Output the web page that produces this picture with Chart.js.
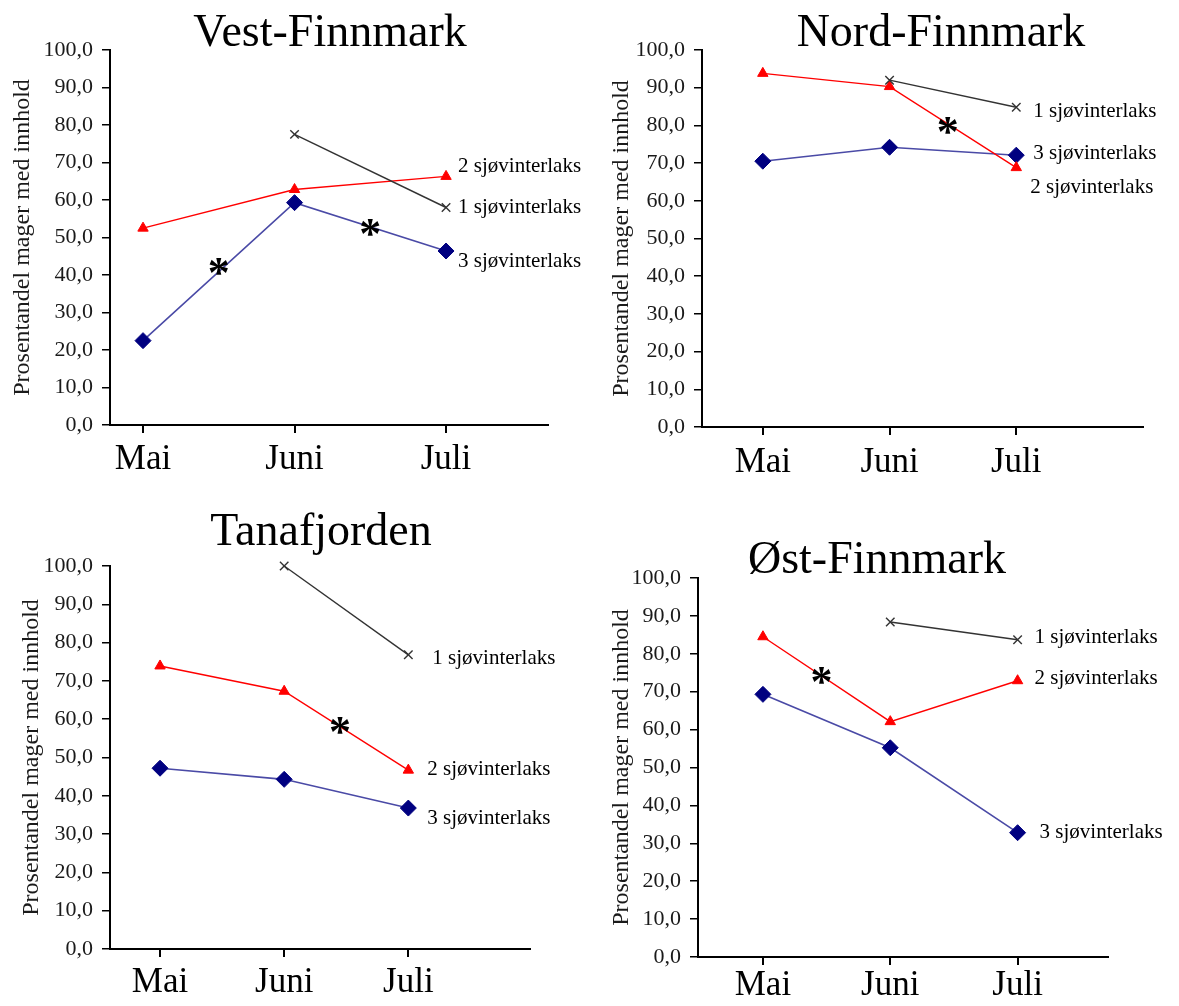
<!DOCTYPE html>
<html>
<head>
<meta charset="utf-8">
<script src="https://cdn.jsdelivr.net/npm/chart.js@4.4.1/dist/chart.umd.min.js"></script>
<style>
  body { margin: 0; background: #fff; }
  .panel { position: absolute; }
</style>
</head>
<body>
<div class="panel" style="left:0px;top:0px;width:595px;height:490px"><canvas id="c1"></canvas></div>
<div class="panel" style="left:595px;top:0px;width:584px;height:490px"><canvas id="c2"></canvas></div>
<div class="panel" style="left:0px;top:490px;width:595px;height:516px"><canvas id="c3"></canvas></div>
<div class="panel" style="left:595px;top:490px;width:584px;height:516px"><canvas id="c4"></canvas></div>
<script>
// month categories and series names
const months = ["Mai", "Juni", "Juli"];
const seriesNames = ["1 sjøvinterlaks", "2 sjøvinterlaks", "3 sjøvinterlaks"];
const yTitle = "Prosentandel mager med innhold";

// values (percent), null = no sample
const vest1 = [null, 77.5, 58.0];
const vest2 = [52.5, 62.8, 66.3];
const vest3 = [22.5, 59.3, 46.4];

const nord1 = [null, 92.0, 84.8];
const nord2 = [93.8, 90.3, 68.8];
const nord3 = [70.5, 74.2, 72.1];

const tana1 = [null, 100.0, 76.8];
const tana2 = [73.9, 67.3, 46.7];
const tana3 = [47.2, 44.3, 36.8];

const ost1 = [null, 88.4, 83.7];
const ost2 = [84.5, 62.1, 72.9];
const ost3 = [69.3, 55.2, 32.8];

// significance stars (month position, value)
const vestStars = [[1.5, 42.2], [2.5, 52.6]];
const nordStars = [[2.46, 80.0]];
const tanaStars = [[2.45, 58.5]];
const ostStars = [[1.46, 74.3]];

const FONT = "'Liberation Serif', 'Times New Roman', serif";

// layout of each panel (page px) - box is the canvas, plot is the axes area
const panels = [
  { id: "c1", title: "Vest-Finnmark", data: [vest1, vest2, vest3], stars: vestStars,
    box: [0, 0, 595, 490], plot: [110, 50, 548, 425], xmin: 0.782, xmax: 3.673,
    titleAt: [330, 46], yTitlePad: 8, xPad: 6,
    labelOff: [[12, 0], [12, -10], [12, 10]] },
  { id: "c2", title: "Nord-Finnmark", data: [nord1, nord2, nord3], stars: nordStars,
    box: [595, 0, 584, 490], plot: [702, 50, 1143, 427], xmin: 0.52, xmax: 4.0,
    titleAt: [941, 46], yTitlePad: 12, xPad: 7,
    labelOff: [[17, 4], [14, 20], [17, -2]] },
  { id: "c3", title: "Tanafjorden", data: [tana1, tana2, tana3], stars: tanaStars,
    box: [0, 490, 595, 516], plot: [110, 566, 530, 949], xmin: 0.597, xmax: 3.98,
    titleAt: [321, 545], yTitlePad: 17, xPad: 5,
    labelOff: [[24, 4], [19, -1], [19, 10]] },
  { id: "c4", title: "Øst-Finnmark", data: [ost1, ost2, ost3], stars: ostStars,
    box: [595, 490, 584, 516], plot: [698, 578, 1108, 957], xmin: 0.49, xmax: 3.71,
    titleAt: [877, 573], yTitlePad: 12, xPad: 0,
    labelOff: [[17, -2], [17, -2], [22, 0]] }
];

const styles = [
  { borderColor: "#333333", backgroundColor: "#333333", pointStyle: "crossRot", pointRadius: 6, borderWidth: 1.4, pointBorderWidth: 1.4 },
  { borderColor: "#ff0000", backgroundColor: "#ff0000", pointStyle: "triangle", pointRadius: 6, borderWidth: 1.4, pointBorderWidth: 1 },
  { borderColor: "#4a4aa6", backgroundColor: "#000080", pointStyle: "rectRot", pointRadius: 8, borderWidth: 1.6, pointBorderWidth: 1, pointBorderColor: "#000080" }
];

function toPoints(vals) {
  return vals.map((v, i) => ({ x: i + 1, y: v }));
}

function makeChart(p) {
  const [bx, by, bw, bh] = p.box;
  const [pl, pt, pr, pb] = p.plot;

  const textPlugin = {
    id: "panelText",
    afterDraw(chart) {
      const ctx = chart.ctx;
      const xs = chart.scales.x, ys = chart.scales.y;
      ctx.save();
      // title
      ctx.fillStyle = "#000";
      ctx.font = "46px " + FONT;
      ctx.textAlign = "center";
      ctx.textBaseline = "alphabetic";
      ctx.fillText(p.title, p.titleAt[0] - bx, p.titleAt[1] - by);
      // series names next to the last point
      ctx.font = "21px " + FONT;
      ctx.textAlign = "left";
      ctx.textBaseline = "middle";
      chart.data.datasets.forEach((ds, i) => {
        const pts = chart.getDatasetMeta(i).data;
        const last = pts[pts.length - 1];
        ctx.fillText(seriesNames[i], last.x + p.labelOff[i][0], last.y + p.labelOff[i][1]);
      });
      // stars
      ctx.font = "bold 44px " + FONT;
      ctx.textAlign = "center";
      ctx.textBaseline = "alphabetic";
      p.stars.forEach(s => {
        ctx.fillText("*", xs.getPixelForValue(s[0]), ys.getPixelForValue(s[1]) + 0.47 * 44);
      });
      ctx.restore();
    }
  };

  new Chart(document.getElementById(p.id), {
    type: "line",
    data: {
      datasets: p.data.map((vals, i) => Object.assign({
        label: seriesNames[i],
        data: toPoints(vals),
        tension: 0,
        clip: false,
        spanGaps: false
      }, styles[i]))
    },
    options: {
      responsive: true,
      maintainAspectRatio: false,
      animation: false,
      events: [],
      layout: { padding: { left: 0, top: pt - by, right: bx + bw - pr, bottom: 0 } },
      plugins: { legend: { display: false }, tooltip: { enabled: false } },
      scales: {
        x: {
          type: "linear",
          min: p.xmin,
          max: p.xmax,
          afterBuildTicks: s => { s.ticks = months.map((m, i) => ({ value: i + 1 })); },
          afterFit: s => { s.height = by + bh - pb; },
          ticks: {
            autoSkip: false, maxRotation: 0, padding: p.xPad, color: "#000",
            font: { family: FONT, size: 35 },
            callback: v => months[v - 1]
          },
          grid: { drawOnChartArea: false, drawTicks: true, tickLength: 8, color: "#000", lineWidth: 2 },
          border: { display: true, color: "#000", width: 2 }
        },
        y: {
          min: 0,
          max: 100,
          afterFit: s => { s.width = pl - bx; },
          ticks: {
            stepSize: 10, padding: 9, color: "#1a1a1a",
            font: { family: FONT, size: 22 },
            callback: v => v.toFixed(1).replace(".", ",")
          },
          grid: { drawOnChartArea: false, drawTicks: true, tickLength: 8, color: "#000", lineWidth: 1.5 },
          border: { display: true, color: "#000", width: 2 },
          title: {
            display: true, text: yTitle, color: "#1a1a1a",
            font: { family: FONT, size: 24 },
            padding: { top: p.yTitlePad, bottom: 0 }
          }
        }
      }
    },
    plugins: [textPlugin]
  });
}

panels.forEach(makeChart);
</script>
</body>
</html>
